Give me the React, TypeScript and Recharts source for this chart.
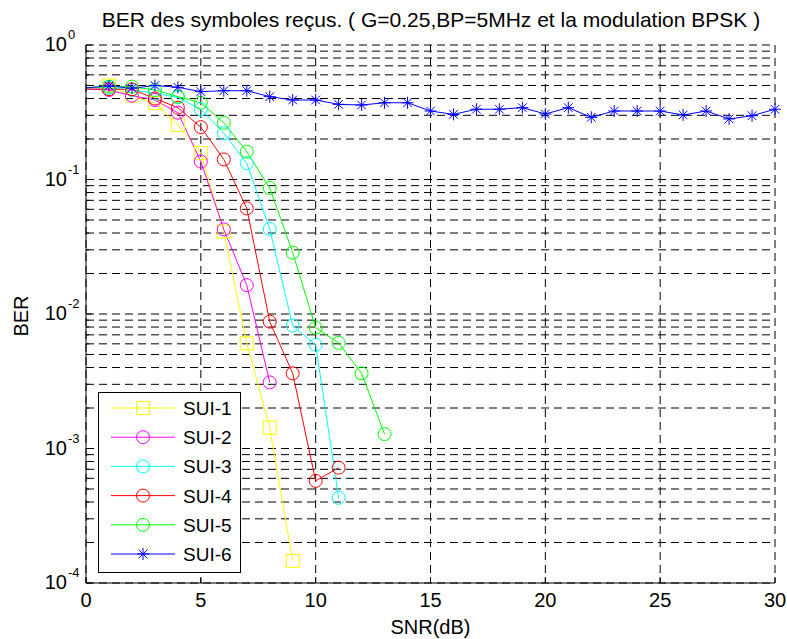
import { LineChart, Line, XAxis, YAxis, CartesianGrid } from 'recharts';

const FONT = '"Liberation Sans", Arial, Helvetica, sans-serif';

const snr = [0, 1, 2, 3, 4, 5, 6, 7, 8, 9, 10, 11, 12, 13, 14, 15, 16, 17, 18, 19, 20, 21, 22, 23, 24, 25, 26, 27, 28, 29, 30];
const sui1 = [0.48, 0.5, 0.42, 0.37, 0.254, 0.157, 0.041, 0.00605, 0.00143, 0.000146];
const sui2 = [0.47, 0.463, 0.42, 0.39, 0.314, 0.136, 0.0426, 0.0164, 0.0031];
const sui3 = [0.48, 0.48, 0.463, 0.437, 0.408, 0.333, 0.221, 0.132, 0.0429, 0.0082, 0.0059, 0.00043];
const sui4 = [0.47, 0.47, 0.468, 0.4, 0.342, 0.245, 0.141, 0.061, 0.00877, 0.00362, 0.000575, 0.00072];
const sui5 = [0.48, 0.49, 0.49, 0.463, 0.413, 0.372, 0.264, 0.161, 0.0865, 0.0286, 0.0079, 0.0061, 0.00362, 0.00128];
const sui6 = [0.48, 0.496, 0.477, 0.5, 0.485, 0.45, 0.457, 0.457, 0.413, 0.39, 0.39, 0.362, 0.358, 0.372, 0.372, 0.323, 0.305, 0.333, 0.333, 0.342, 0.307, 0.342, 0.29, 0.323, 0.323, 0.323, 0.302, 0.323, 0.282, 0.298, 0.333];

const xTicks = [0, 5, 10, 15, 20, 25, 30];
const decades = [1e-4, 1e-3, 1e-2, 1e-1, 1];
const minorSteps = [2, 3, 4, 5, 6, 7, 8, 9];

const yTicks = decades.flatMap((d, i) => (i < decades.length - 1 ? [d, ...minorSteps.map((m) => m * d)] : [d]));

const series = [
  { key: 'sui1', name: 'SUI-1', color: '#ffff00', marker: 'square', values: sui1 },
  { key: 'sui2', name: 'SUI-2', color: '#ff00ff', marker: 'circle', values: sui2 },
  { key: 'sui3', name: 'SUI-3', color: '#00ffff', marker: 'circle', values: sui3 },
  { key: 'sui4', name: 'SUI-4', color: '#ff0000', marker: 'circle', values: sui4 },
  { key: 'sui5', name: 'SUI-5', color: '#00ff00', marker: 'circle', values: sui5 },
  { key: 'sui6', name: 'SUI-6', color: '#0000ff', marker: 'star', values: sui6 },
];

const data = snr.map((x, i) => {
  const row: any = { snr: x };
  series.forEach((s) => {
    if (i < s.values.length) row[s.key] = s.values[i];
  });
  return row;
});

function Marker({ type, cx, cy, color }: { type: string; cx: number; cy: number; color: string }) {
  if (type === 'square') {
    return <rect x={cx - 6.5} y={cy - 6.5} width={13} height={13} fill="none" stroke={color} strokeWidth={1} />;
  }
  if (type === 'star') {
    const r = 6;
    const d = r * 0.72;
    return (
      <g stroke={color} strokeWidth={1}>
        <line x1={cx} y1={cy - r} x2={cx} y2={cy + r} />
        <line x1={cx - r} y1={cy} x2={cx + r} y2={cy} />
        <line x1={cx - d} y1={cy - d} x2={cx + d} y2={cy + d} />
        <line x1={cx - d} y1={cy + d} x2={cx + d} y2={cy - d} />
      </g>
    );
  }
  return <circle cx={cx} cy={cy} r={6.5} fill="none" stroke={color} strokeWidth={1} />;
}

const isMajor = (v: number) => decades.some((d) => Math.abs(v / d - 1) < 1e-9);

const LeftTick = (props: any) => {
  const { x, y, payload } = props;
  const v = payload.value;
  const major = isMajor(v);
  const exp = Math.round(Math.log10(v));
  return (
    <g>
      <line x1={x} x2={x + (major ? 6 : 3)} y1={y} y2={y} stroke="#000" />
      {major && (
        <g fontFamily={FONT} fill="#000">
          <text x={x - 19} y={y + 6} textAnchor="end" fontSize={20}>10</text>
          <text x={x - 18} y={y - 6} textAnchor="start" fontSize={13}>{exp === 0 ? '0' : '-' + Math.abs(exp)}</text>
        </g>
      )}
    </g>
  );
};

const RightTick = (props: any) => {
  const { x, y, payload } = props;
  const major = isMajor(payload.value);
  return <line x1={x} x2={x - (major ? 6 : 3)} y1={y} y2={y} stroke="#000" />;
};

const BottomTick = (props: any) => {
  const { x, y, payload } = props;
  return (
    <g>
      <line x1={x} x2={x} y1={y} y2={y - 6} stroke="#000" />
      <text x={x} y={y + 24} textAnchor="middle" fontSize={20} fontFamily={FONT} fill="#000">
        {payload.value}
      </text>
    </g>
  );
};

const TopTick = (props: any) => {
  const { x, y } = props;
  return <line x1={x} x2={x} y1={y} y2={y + 6} stroke="#000" />;
};

function Legend() {
  return (
    <div
      style={{
        position: 'absolute',
        left: 98,
        top: 392,
        width: 143,
        height: 181,
        boxSizing: 'border-box',
        border: '1px solid #000',
        background: '#fff',
      }}
    >
      <svg width={141} height={179}>
        {series.map((s, i) => {
          const cy = 15 + i * 29.2;
          return (
            <g key={s.key}>
              <line x1={12} x2={76} y1={cy} y2={cy} stroke={s.color} strokeWidth={1} />
              <Marker type={s.marker} cx={44} cy={cy} color={s.color} />
              <text x={84} y={cy + 7} fontSize={19} fontFamily={FONT} fill="#000">
                {s.name}
              </text>
            </g>
          );
        })}
      </svg>
    </div>
  );
}

export default function App() {
  return (
    <div style={{ position: 'absolute', left: 0, top: 0, width: 787, height: 639, background: '#fff', fontFamily: FONT }}>
      <svg width={787} height={45} style={{ position: 'absolute', left: 0, top: 0 }}>
        <text x={431} y={27} textAnchor="middle" fontSize={21} fontFamily={FONT} fill="#000">
          BER des symboles reçus. ( G=0.25,BP=5MHz et la modulation BPSK )
        </text>
      </svg>
      <LineChart width={787} height={639} data={data} margin={{ top: 45, right: 12, bottom: 0, left: 0 }}>
        <CartesianGrid xAxisId="b" yAxisId="l" stroke="#000" strokeDasharray="8 5" strokeWidth={1} />
        <XAxis
          xAxisId="b"
          dataKey="snr"
          type="number"
          domain={[0, 30]}
          ticks={xTicks}
          interval={0}
          height={56}
          tickLine={false}
          tickSize={0}
          tickMargin={0}
          axisLine={{ stroke: '#000' }}
          tick={<BottomTick />}
          label={{
            content: (p: any) => (
              <text x={p.viewBox.x + p.viewBox.width / 2} y={634} textAnchor="middle" fontSize={20} fontFamily={FONT} fill="#000">
                SNR(dB)
              </text>
            ),
          }}
        />
        <XAxis
          xAxisId="t"
          orientation="top"
          dataKey="snr"
          type="number"
          domain={[0, 30]}
          ticks={xTicks}
          interval={0}
          height={0}
          tickLine={false}
          tickSize={0}
          tickMargin={0}
          axisLine={{ stroke: '#000' }}
          tick={<TopTick />}
        />
        <YAxis
          yAxisId="l"
          scale="log"
          type="number"
          domain={[1e-4, 1]}
          allowDataOverflow
          ticks={yTicks}
          interval={0}
          width={86}
          tickLine={false}
          tickSize={0}
          tickMargin={0}
          axisLine={{ stroke: '#000' }}
          tick={<LeftTick />}
          label={{
            content: (p: any) => {
              const cy = p.viewBox.y + p.viewBox.height / 2 + 2;
              return (
                <text x={28} y={cy} transform={`rotate(-90 28 ${cy})`} textAnchor="middle" fontSize={20} fontFamily={FONT} fill="#000">
                  BER
                </text>
              );
            },
          }}
        />
        <YAxis
          yAxisId="r"
          orientation="right"
          scale="log"
          type="number"
          domain={[1e-4, 1]}
          allowDataOverflow
          ticks={yTicks}
          interval={0}
          width={0}
          tickLine={false}
          tickSize={0}
          tickMargin={0}
          axisLine={{ stroke: '#000' }}
          tick={<RightTick />}
        />
        {series.map((s) => (
          <Line
            key={s.key}
            xAxisId="b"
            yAxisId="l"
            type="linear"
            dataKey={s.key}
            name={s.name}
            stroke={s.color}
            strokeWidth={1}
            activeDot={false}
            isAnimationActive={false}
            dot={(p: any) =>
              p.cx == null || p.cy == null || p.payload.snr === 0 ? (
                <g key={p.key} />
              ) : (
                <Marker key={p.key} type={s.marker} cx={p.cx} cy={p.cy} color={s.color} />
              )
            }
          />
        ))}
      </LineChart>
      <Legend />
    </div>
  );
}
